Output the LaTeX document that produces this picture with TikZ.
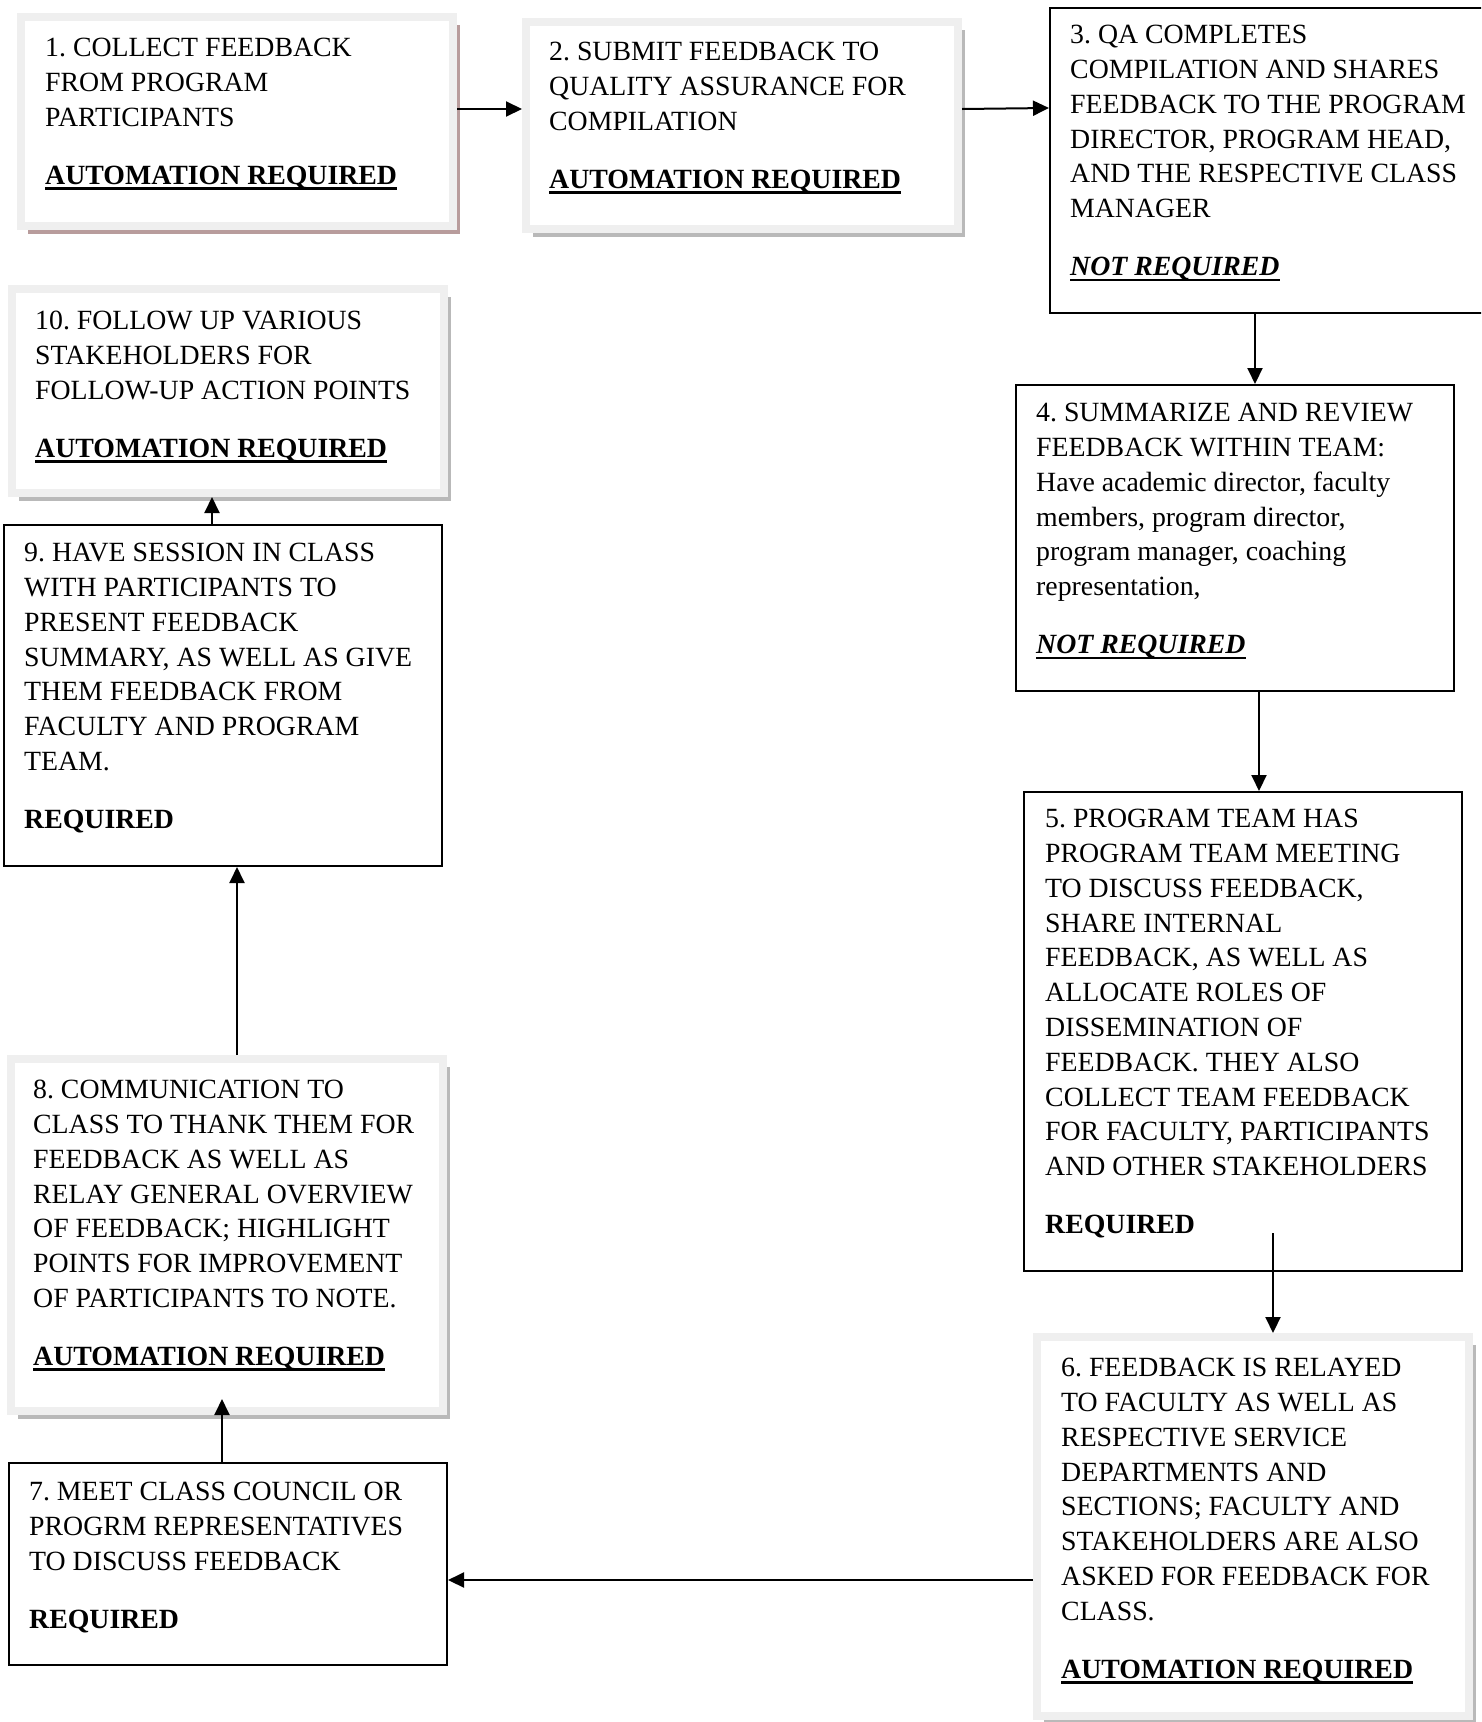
\documentclass[tikz,border=0pt]{standalone}
\usepackage{fontspec}
\setmainfont{Liberation Serif}
\usepackage{tikz}
\usetikzlibrary{arrows.meta,positioning,calc,shadows}
\definecolor{rimgrey}{HTML}{EFEFEF}
\definecolor{shadowgrey}{HTML}{B9B9B9}
\definecolor{shadowrose}{HTML}{B89C9C}
\newcommand{\undertext}[1]{\setbox0\hbox{#1}\rlap{\rule[-5.5pt]{\wd0}{2.4pt}}\box0}
\newcommand{\gapline}{\\[23pt]}
\frenchspacing

\begin{document}
\begin{tikzpicture}[x=1pt, y=-1pt, >={Triangle[length=16pt,width=15pt]}]
    \tikzstyle{plain box} = [rectangle, draw, line width=1.8pt, fill=white, minimum width=438.2pt, anchor=north west]
    \tikzstyle{shade box} = [rectangle, draw=rimgrey, line width=8pt, fill=white, minimum width=432pt, anchor=north west,
        drop shadow={shadow xshift=7pt, shadow yshift=-8pt, fill=shadowgrey, opacity=1}]
    \tikzstyle{label text} = [anchor=north west, inner sep=0pt, align=left, font=\fontsize{27.8pt}{34.8pt}\selectfont]
    \tikzstyle{arrow line} = [->, line width=2pt]
    \useasboundingbox (0,0) rectangle (1481,1722);
    \clip (0,0) rectangle (1481,1722);

    \node[shade box, minimum height=209pt, drop shadow={shadow xshift=7pt, shadow yshift=-8pt, fill=shadowrose, opacity=1}] (b1) at (17,13) {};
    \node[shade box, minimum height=207pt] (b2) at (522,18) {};
    \node[plain box, minimum height=305.2pt] (b3) at (1049,7) {};
    \node[plain box, minimum height=306.2pt] (b4) at (1015,384) {};
    \node[plain box, minimum height=479.2pt] (b5) at (1023,791) {};
    \node[shade box, minimum height=379pt] (b6) at (1033,1333) {};
    \node[plain box, minimum height=202.2pt] (b7) at (8,1462) {};
    \node[shade box, minimum height=352pt] (b8) at (7,1055) {};
    \node[plain box, minimum height=341.2pt] (b9) at (3,524) {};
    \node[shade box, minimum height=204pt] (b10) at (8,285) {};

    \node[label text] (t1) at ([shift={(28,25)}]b1.north west) {1. COLLECT FEEDBACK\\FROM PROGRAM\\PARTICIPANTS\gapline\undertext{\bfseries AUTOMATION REQUIRED}};
    \node[label text] (t2) at ([shift={(27,24)}]b2.north west) {2. SUBMIT FEEDBACK TO\\QUALITY ASSURANCE FOR\\COMPILATION\gapline\undertext{\bfseries AUTOMATION REQUIRED}};
    \node[label text] (t3) at ([shift={(21,18)}]b3.north west) {3. QA COMPLETES\\COMPILATION AND SHARES\\FEEDBACK TO THE PROGRAM\\DIRECTOR, PROGRAM HEAD,\\AND THE RESPECTIVE CLASS\\MANAGER\gapline\undertext{\bfseries\itshape NOT REQUIRED}};
    \node[label text] (t4) at ([shift={(21,19)}]b4.north west) {4. SUMMARIZE AND REVIEW\\FEEDBACK WITHIN TEAM:\\Have academic director, faculty\\members, program director,\\program manager, coaching\\representation,\gapline\undertext{\bfseries\itshape NOT REQUIRED}};
    \node[label text] (t5) at ([shift={(22,18)}]b5.north west) {5. PROGRAM TEAM HAS\\PROGRAM TEAM MEETING\\TO DISCUSS FEEDBACK,\\SHARE INTERNAL\\FEEDBACK, AS WELL AS\\ALLOCATE ROLES OF\\DISSEMINATION OF\\FEEDBACK. THEY ALSO\\COLLECT TEAM FEEDBACK\\FOR FACULTY, PARTICIPANTS\\AND OTHER STAKEHOLDERS\gapline\textbf{REQUIRED}};
    \node[label text] (t6) at ([shift={(28,25)}]b6.north west) {6. FEEDBACK IS RELAYED\\TO FACULTY AS WELL AS\\RESPECTIVE SERVICE\\DEPARTMENTS AND\\SECTIONS; FACULTY AND\\STAKEHOLDERS ARE ALSO\\ASKED FOR FEEDBACK FOR\\CLASS.\gapline\undertext{\bfseries AUTOMATION REQUIRED}};
    \node[label text] (t7) at ([shift={(21,20)}]b7.north west) {7. MEET CLASS COUNCIL OR\\PROGRM REPRESENTATIVES\\TO DISCUSS FEEDBACK\gapline\textbf{REQUIRED}};
    \node[label text] (t8) at ([shift={(26,25)}]b8.north west) {8. COMMUNICATION TO\\CLASS TO THANK THEM FOR\\FEEDBACK AS WELL AS\\RELAY GENERAL OVERVIEW\\OF FEEDBACK; HIGHLIGHT\\POINTS FOR IMPROVEMENT\\OF PARTICIPANTS TO NOTE.\gapline\undertext{\bfseries AUTOMATION REQUIRED}};
    \node[label text] (t9) at ([shift={(21,19)}]b9.north west) {9. HAVE SESSION IN CLASS\\WITH PARTICIPANTS TO\\PRESENT FEEDBACK\\SUMMARY, AS WELL AS GIVE\\THEM FEEDBACK FROM\\FACULTY AND PROGRAM\\TEAM.\gapline\textbf{REQUIRED}};
    \node[label text] (t10) at ([shift={(27,26)}]b10.north west) {10. FOLLOW UP VARIOUS\\STAKEHOLDERS FOR\\FOLLOW-UP ACTION POINTS\gapline\undertext{\bfseries AUTOMATION REQUIRED}};

    \coordinate (s5) at (1273,1233);
    \draw[arrow line] (b1.east |- 0,109) -- (b2.west |- 0,109);
    \draw[arrow line] (b2.east |- 0,109) -- (b3.west |- 0,108);
    \draw[arrow line] (b3.south -| 1255,0) -- (b4.north -| 1255,0);
    \draw[arrow line] (b4.south -| 1259,0) -- (b5.north -| 1259,0);
    \draw[arrow line] (s5) -- (b6.north -| s5);
    \draw[arrow line] (b6.west |- 0,1580) -- (b7.east |- 0,1580);
    \draw[arrow line, shorten >=-16pt] (b7.north -| 222,0) -- (b8.south -| 222,0);
    \draw[arrow line] (b8.north -| 237,0) -- (b9.south -| 237,0);
    \draw[arrow line] (b9.north -| 212,0) -- (b10.south -| 212,0);
\end{tikzpicture}
\end{document}
